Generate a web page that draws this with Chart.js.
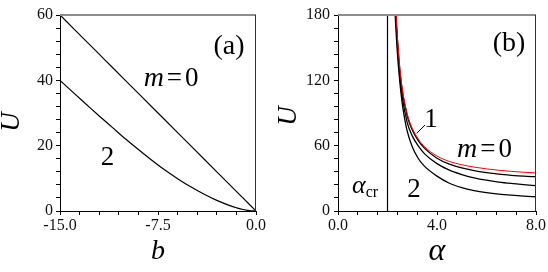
<!DOCTYPE html>
<html><head><meta charset="utf-8">
<script src="https://cdn.jsdelivr.net/npm/chart.js@4/dist/chart.umd.min.js"></script>
<style>
html,body{margin:0;padding:0;background:#fff;}
#wrap{position:relative;width:548px;height:272px;overflow:hidden;}
.p{position:absolute;top:0;width:274px;height:272px;}
#pa{left:0;} #pb{left:274px;}
#fontprobe{position:absolute;left:-1000px;top:0;font-family:"Liberation Serif";}
#fontprobe i{font-style:italic;}
</style></head><body>
<div id="fontprobe">0123 <i>mUbα</i> (a)</div>
<div id="wrap"><div class="p" id="pa"><canvas id="ca" width="274" height="272"></canvas></div><div class="p" id="pb"><canvas id="cb" width="274" height="272"></canvas></div></div>
<script>
// ---------- Panel (a): U versus b ----------
const bM0 = [-15,-14,-13,-12,-11,-10,-9,-8,-7,-6,-5,-4,-3,-2,-1,0];
const uM0a = [60,56,52,48,44,40,36,32,28,24,20,16,12,8,4,0];
const bM2 = [-15,-14,-13,-12,-11,-10,-9,-8,-7,-6,-5,-4,-3,-2,-1.5,-1,-0.5,0];
const uM2a = [40,36.3,32.7,29.1,25.6,22.1,18.8,15.6,12.6,9.9,7.4,5.2,3.25,1.65,1.0,0.45,0.12,0];
const xMajorA = [-15,-7.5,0];
const xLabelsA = ['-15.0','-7.5','0.0'];
const yMajorA = [0,20,40,60];
const yLabelsA = ['0','20','40','60'];

// ---------- Panel (b): U versus alpha ----------
const aRed = [2.35,2.4,2.5,2.6,2.8,3.0,3.25,3.5,4.0,4.5,5.0,5.5,6.0,6.5,7.0,7.5,8.0];
const uRed = [180,160,131,112,89,76,66,59,50.5,45.5,42.5,40.3,38.7,37.4,36.4,35.6,35];
const aM0 = [2.34,2.4,2.5,2.6,2.8,3.0,3.25,3.5,4.0,4.5,5.0,5.5,6.0,6.5,7.0,7.5,8.0];
const uM0b = [180,158,129,110,87,74.5,64.5,57.5,48.5,43,39.5,37,35.2,33.8,32.8,32,31.5];
const aM1 = [2.33,2.4,2.5,2.6,2.8,3.0,3.25,3.5,4.0,4.5,5.0,5.5,6.0,6.5,7.0,7.5,8.0];
const uM1b = [180,152,123,104,81,69,59.5,52.5,43.5,37.5,33.5,30.5,28.3,26.6,25.3,24.2,23.3];
const aM2 = [2.31,2.35,2.4,2.5,2.6,2.7,2.8,3.0,3.25,3.5,4.0,4.5,5.0,5.5,6.0,6.5,7.0,7.5,8.0];
const uM2b = [180,163,145,118,98,84,73,59,48,41,32,25.5,21.5,18.8,16.9,15.5,14.5,13.7,13.1];
const alphaCr = 2;
const xMajorB = [0,4,8];
const xLabelsB = ['0.0','4.0','8.0'];
const yMajorB = [0,60,120,180];
const yLabelsB = ['0','60','120','180'];

const SERIF = '"Liberation Serif", "Times New Roman", "DejaVu Serif", serif';
const pts = (xs, ys) => xs.map((x, i) => ({x, y: ys[i]}));
const majorLabel = (majors, labels) => (v) => {
  for (let i = 0; i < majors.length; i++) if (Math.abs(v - majors[i]) < 1e-6) return labels[i];
  return '';
};

function line(data, color, width) {
  return {data, borderColor: color, borderWidth: width, pointRadius: 0, fill: false,
          cubicInterpolationMode: 'monotone'};
}

function txt(ctx, s, x, y, font, align, base) {
  ctx.font = font; ctx.textAlign = align || 'left'; ctx.textBaseline = base || 'alphabetic';
  ctx.fillStyle = '#000'; ctx.fillText(s, x, y);
}
function mEq0(ctx, x, y) {
  txt(ctx, 'm', x, y, `italic 28px ${SERIF}`);
  let w = ctx.measureText('m').width + 3;
  txt(ctx, '=', x + w, y, `27px ${SERIF}`);
  w += ctx.measureText('=').width + 3;
  txt(ctx, '0', x + w, y, `27px ${SERIF}`);
}

const framePlugin = {
  id: 'frame',
  afterDraw(chart, args, opts) {
    const {ctx, chartArea: a, scales: {x, y}} = chart;
    ctx.save();
    ctx.strokeStyle = '#8c8c8c'; ctx.lineWidth = 2;
    ctx.beginPath(); ctx.moveTo(a.left, a.top); ctx.lineTo(a.right, a.top); ctx.stroke();
    ctx.strokeStyle = '#333'; ctx.lineWidth = 1;
    ctx.beginPath(); ctx.moveTo(a.right - 0.5, a.top); ctx.lineTo(a.right - 0.5, a.bottom); ctx.stroke();
    ctx.translate(opts.uX, opts.uY); ctx.rotate(-Math.PI / 2);
    txt(ctx, 'U', 0, 0, `italic 27px ${SERIF}`, 'center', 'middle');
    ctx.restore();
    ctx.save();
    opts.draw(ctx, x, y);
    ctx.restore();
  }
};

function scalesFor(minX, maxX, stepX, majX, labX, maxY, stepY, majY, labY, yW, titleX, titleSize, yPad) {
  return {
    x: {type: 'linear', position: 'bottom', min: minX, max: maxX,
        afterFit: (s) => { s.height = 61; },
        ticks: {stepSize: stepX, autoSkip: false, maxRotation: 0, padding: 1, color: '#111',
                font: {family: SERIF, size: 16}, callback: majorLabel(majX, labX)},
        grid: {drawOnChartArea: false, drawTicks: true, tickLength: 4, tickColor: '#000'},
        border: {display: true, color: '#000', width: 1},
        title: {display: true, text: titleX, color: '#000',
                font: {family: SERIF, size: titleSize, style: 'italic', lineHeight: 1},
                padding: {top: 0, bottom: 20 - titleSize / 2}}},
    y: {type: 'linear', position: 'left', min: 0, max: maxY,
        afterFit: (s) => { s.width = yW; },
        ticks: {stepSize: stepY, autoSkip: false, padding: yPad, color: '#111',
                font: {family: SERIF, size: 16}, callback: majorLabel(majY, labY)},
        grid: {drawOnChartArea: false, drawTicks: true, tickLength: 4, tickColor: '#000'},
        border: {display: true, color: '#000', width: 1}}
  };
}

const common = {responsive: false, animation: false, devicePixelRatio: 1,
  plugins: {legend: {display: false}, tooltip: {enabled: false}}};

function build() {
  Chart.defaults.font.family = SERIF;
  new Chart(document.getElementById('ca'), {
    type: 'line',
    data: {datasets: [
      line(pts(bM0, uM0a), '#000', 1.2),
      line(pts(bM2, uM2a), '#000', 1.2)
    ]},
    options: Object.assign({}, common, {
      layout: {padding: {left: 0, right: 18, top: 15, bottom: 0}},
      scales: scalesFor(-15, 0, 1.5, xMajorA, xLabelsA, 60, 4, yMajorA, yLabelsA, 60, 'b', 28, 3),
      plugins: Object.assign({}, common.plugins, {frame: {uX: 12, uY: 122, draw: (ctx, x, y) => {
        txt(ctx, '(a)', x.getPixelForValue(-2.07), y.getPixelForValue(50.4), `28px ${SERIF}`, 'center', 'middle');
        mEq0(ctx, x.getPixelForValue(-8.6), y.getPixelForValue(38.3));
        txt(ctx, '2', x.getPixelForValue(-11.36), y.getPixelForValue(14.1), `27px ${SERIF}`, 'center');
      }}})
    }),
    plugins: [framePlugin]
  });

  new Chart(document.getElementById('cb'), {
    type: 'line',
    data: {datasets: [
      line(pts(aRed, uRed), '#ff0000', 1),
      line(pts(aM0, uM0b), '#000', 1.3),
      line(pts(aM1, uM1b), '#000', 1.3),
      line(pts(aM2, uM2b), '#000', 1.3),
      line([{x: alphaCr, y: 0}, {x: alphaCr, y: 180}], '#000', 1.2),
      line([{x: 3.515, y: 79.0}, {x: 3.18, y: 71.3}], '#000', 1)
    ]},
    options: Object.assign({}, common, {
      layout: {padding: {left: 0, right: 12, top: 15, bottom: 0}},
      scales: scalesFor(0, 8, 0.8, xMajorB, xLabelsB, 180, 12, yMajorB, yLabelsB, 64, 'α', 32, 4),
      plugins: Object.assign({}, common.plugins, {frame: {uX: 15, uY: 116, draw: (ctx, x, y) => {
        txt(ctx, '(b)', x.getPixelForValue(6.91), y.getPixelForValue(153.8), `28px ${SERIF}`, 'center', 'middle');
        mEq0(ctx, x.getPixelForValue(4.81), y.getPixelForValue(49.6));
        txt(ctx, '1', x.getPixelForValue(3.76), y.getPixelForValue(77.1), `27px ${SERIF}`, 'center');
        txt(ctx, '2', x.getPixelForValue(3.07), y.getPixelForValue(12.9), `27px ${SERIF}`, 'center');
        txt(ctx, 'α', x.getPixelForValue(0.566), y.getPixelForValue(16.5), `italic 26px ${SERIF}`);
        txt(ctx, 'cr', x.getPixelForValue(1.12), y.getPixelForValue(12.9), `16px ${SERIF}`);
      }}})
    }),
    plugins: [framePlugin]
  });
}

const loads = ['16px "Liberation Serif"', 'italic 16px "Liberation Serif"'].map(f => document.fonts.load(f).catch(() => null));
Promise.all(loads).then(build, build);
</script>
</body></html>
